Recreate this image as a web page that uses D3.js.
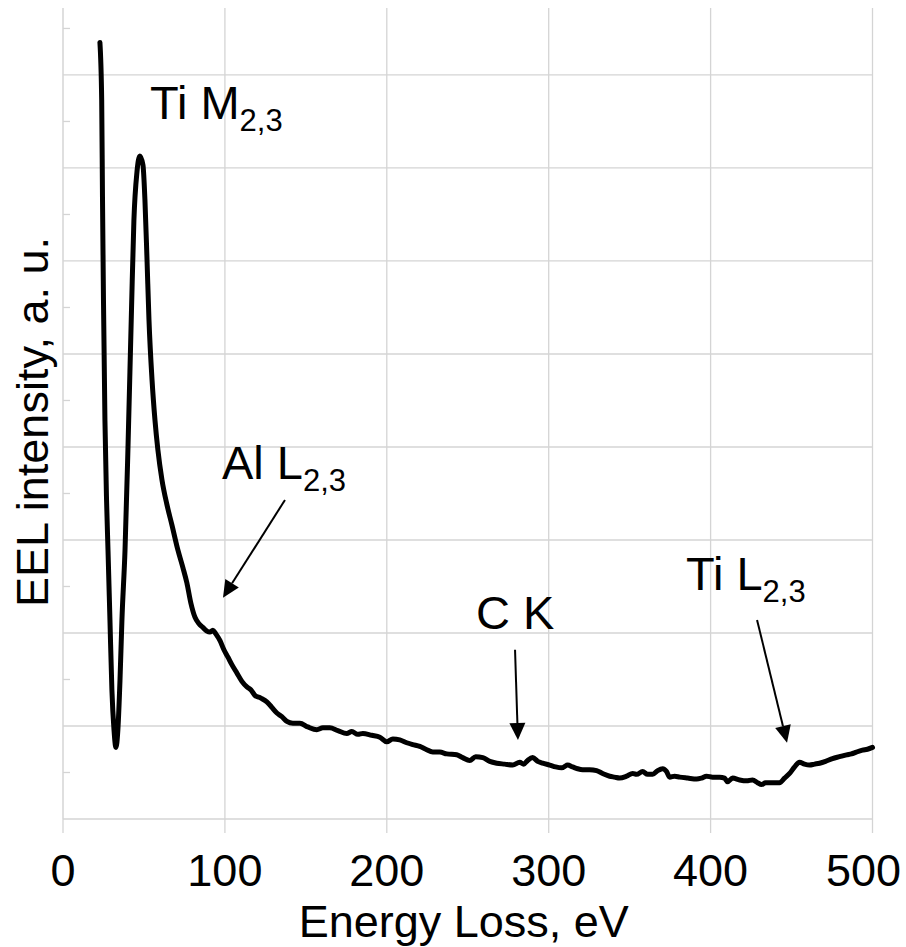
<!DOCTYPE html>
<html><head><meta charset="utf-8">
<script src="https://cdn.jsdelivr.net/npm/d3@7"></script>
<style>
html,body{margin:0;padding:0;background:#fff;}
svg{display:block;font-family:"Liberation Sans",Arial,sans-serif;}
</style></head>
<body>
<svg id="chart" width="906" height="947"></svg>
<script>
// Energy loss (eV)
const energy = [22.8,23.9,24.4,25.0,25.9,26.9,27.8,29.0,30.2,31.5,32.7,33.9,35.2,36.4,38.3,40.1,42.3,43.8,45.7,47.5,49.4,50.6,51.9,53.1,55.0,56.8,58.6,61.1,64.2,67.3,71.0,74.1,76.5,79.0,81.5,84.0,86.4,88.9,90.7,92.6,94.4,96.9,99.4,101.9,104.3,107.4,110.5,113.6,116.0,118.5,122.2,125.9,129.0,132.1,135.2,138.3,142.0,146.3,151.2,156.8,160.5,164.8,169.8,175.3,178.4,182.1,185.2,190.7,195.7,200.0,203.7,208.0,212.3,216.0,220.4,224.1,228.4,232.7,237.0,243.2,246.9,251.2,254.9,259.3,263.6,267.9,272.8,277.8,282.1,284.6,287.0,290.1,293.2,296.3,300.6,304.3,308.0,311.7,314.8,317.9,321.0,325.3,329.6,333.3,337.7,340.7,343.8,348.1,351.9,354.3,358.0,361.1,364.2,367.3,370.4,372.8,374.7,377.8,380.9,385.8,391.4,394.4,397.5,401.2,405.6,408.6,410.5,413.6,417.9,422.2,425.9,429.0,431.5,433.9,436.4,439.5,442.6,445.7,448.8,451.9,454.9,458.0,461.1,464.2,467.3,471.0,475.3,479.6,484.0,487.0,490.1,493.8,496.9,500.0];
// EEL intensity (a. u.)
const intensity = [8.35,7.73,6.66,5.58,4.29,3.43,2.89,2.14,1.39,0.96,0.77,0.96,1.49,2.14,2.89,3.97,5.47,6.44,6.96,7.13,7.03,6.66,6.01,5.37,4.72,4.29,3.97,3.65,3.38,3.16,2.89,2.70,2.54,2.32,2.17,2.10,2.06,2.02,2.01,2.03,1.99,1.92,1.82,1.74,1.66,1.57,1.48,1.42,1.39,1.33,1.30,1.26,1.20,1.14,1.10,1.05,1.03,1.03,0.99,0.96,0.98,0.98,0.95,0.92,0.94,0.91,0.92,0.90,0.88,0.83,0.86,0.85,0.82,0.80,0.78,0.75,0.72,0.72,0.70,0.69,0.66,0.63,0.67,0.66,0.62,0.60,0.59,0.58,0.61,0.59,0.63,0.66,0.62,0.60,0.58,0.56,0.55,0.58,0.56,0.54,0.53,0.53,0.52,0.49,0.46,0.45,0.44,0.46,0.49,0.48,0.51,0.48,0.48,0.52,0.54,0.51,0.45,0.46,0.45,0.44,0.43,0.44,0.46,0.45,0.45,0.44,0.40,0.44,0.42,0.41,0.42,0.39,0.37,0.39,0.39,0.39,0.39,0.44,0.49,0.56,0.61,0.59,0.58,0.59,0.60,0.62,0.65,0.67,0.69,0.70,0.72,0.74,0.75,0.77];
const xTicks = [0,100,200,300,400,500];
const yMajor = [1,2,3,4,5,6,7,8];
const yMinor = [0.5,1.5,2.5,3.5,4.5,5.5,6.5,7.5,8.5];
const xTitle = "Energy Loss, eV";
const yTitle = "EEL intensity, a. u.";
// annotations: label main text, subscript, label anchor (E, I), arrow from/to (E, I)
const annLabels = ["Ti M","Al L","C K","Ti L"];
const annSubs = ["2,3","2,3","","2,3"];
const annAt = [[53.7,7.53],[98.2,3.66],[255.1,2.04],[384.8,2.46]];
const annArrowFrom = [null,[137.1,3.43],[279.2,1.82],[428.7,2.14]];
const annArrowTo = [null,[98.8,2.38],[281.0,0.85],[447.2,0.82]];

const W0 = 906;
const svg = d3.select("#chart");
const x = d3.scaleLinear().domain([0,500]).range([63,872.5]);
const y = d3.scaleLinear().domain([0,8.72]).range([819,8]);
const grid = "#d4d4d4";

// vertical gridlines
svg.append("g").selectAll("line").data(xTicks.slice(1)).join("line")
  .attr("x1",d=>x(d)).attr("x2",d=>x(d)).attr("y1",y(8.72)).attr("y2",y(0))
  .attr("stroke",grid).attr("stroke-width",1.3);
// horizontal gridlines
svg.append("g").selectAll("line").data(yMajor).join("line")
  .attr("x1",x(0)).attr("x2",x(500)).attr("y1",d=>y(d)).attr("y2",d=>y(d))
  .attr("stroke",grid).attr("stroke-width",1.3);
// minor y ticks
svg.append("g").selectAll("line").data(yMinor).join("line")
  .attr("x1",x(0)).attr("x2",x(0)+7).attr("y1",d=>y(d)).attr("y2",d=>y(d))
  .attr("stroke",grid).attr("stroke-width",1.3);
// axes lines
svg.append("line").attr("x1",x(0)).attr("x2",x(0)).attr("y1",y(8.72)).attr("y2",y(0))
  .attr("stroke",grid).attr("stroke-width",1.5);
svg.append("line").attr("x1",x(0)).attr("x2",x(500)).attr("y1",y(0)).attr("y2",y(0))
  .attr("stroke",grid).attr("stroke-width",1.5);
// x ticks
svg.append("g").selectAll("line").data(xTicks).join("line")
  .attr("x1",d=>x(d)).attr("x2",d=>x(d)).attr("y1",y(0)).attr("y2",y(0)+14)
  .attr("stroke",grid).attr("stroke-width",1.3);
// x tick labels (kept inside the picture)
svg.append("g").selectAll("text").data(xTicks).join("text")
  .attr("x",d=>x(d)).attr("y",886).attr("text-anchor","middle")
  .attr("font-size",45).attr("fill","#000").text(d=>d)
  .each(function(){
    const b=this.getBBox();
    if(b.x+b.width>W0-5){
      d3.select(this).attr("x",+d3.select(this).attr("x")-(b.x+b.width-(W0-5)));
    }
  });
// axis titles
svg.append("text").attr("x",(x(0)+x(500))/2-4).attr("y",937).attr("text-anchor","middle")
  .attr("font-size",45).attr("fill","#000").text(xTitle);
svg.append("text").attr("transform","translate(48,422) rotate(-90)").attr("text-anchor","middle")
  .attr("font-size",45).attr("fill","#000").text(yTitle);

// data line
const pts = energy.map((e,i)=>[e,intensity[i]]);
svg.append("path").datum(pts)
  .attr("d",d3.line().x(d=>x(d[0])).y(d=>y(d[1])).curve(d3.curveMonotoneX))
  .attr("fill","none").attr("stroke","#000").attr("stroke-width",5)
  .attr("stroke-linejoin","round").attr("stroke-linecap","round");

// annotations
annLabels.forEach((lab,i)=>{
  const t = svg.append("text").attr("x",x(annAt[i][0])).attr("y",y(annAt[i][1]))
    .attr("font-size",47).attr("fill","#000");
  t.append("tspan").text(lab);
  if(annSubs[i]) t.append("tspan").attr("font-size",31).attr("dy",12).text(annSubs[i]);
  if(annArrowFrom[i]){
    const x1=x(annArrowFrom[i][0]), y1=y(annArrowFrom[i][1]);
    const x2=x(annArrowTo[i][0]), y2=y(annArrowTo[i][1]);
    const ang=Math.atan2(y2-y1,x2-x1), L=17, W=8;
    const bx=x2-L*Math.cos(ang), by=y2-L*Math.sin(ang);
    svg.append("line").attr("x1",x1).attr("y1",y1).attr("x2",bx).attr("y2",by)
      .attr("stroke","#000").attr("stroke-width",2);
    const px=-Math.sin(ang), py=Math.cos(ang);
    svg.append("path").attr("d",`M${x2},${y2}L${bx+W*px},${by+W*py}L${bx-W*px},${by-W*py}Z`)
      .attr("fill","#000");
  }
});
</script>
</body></html>
